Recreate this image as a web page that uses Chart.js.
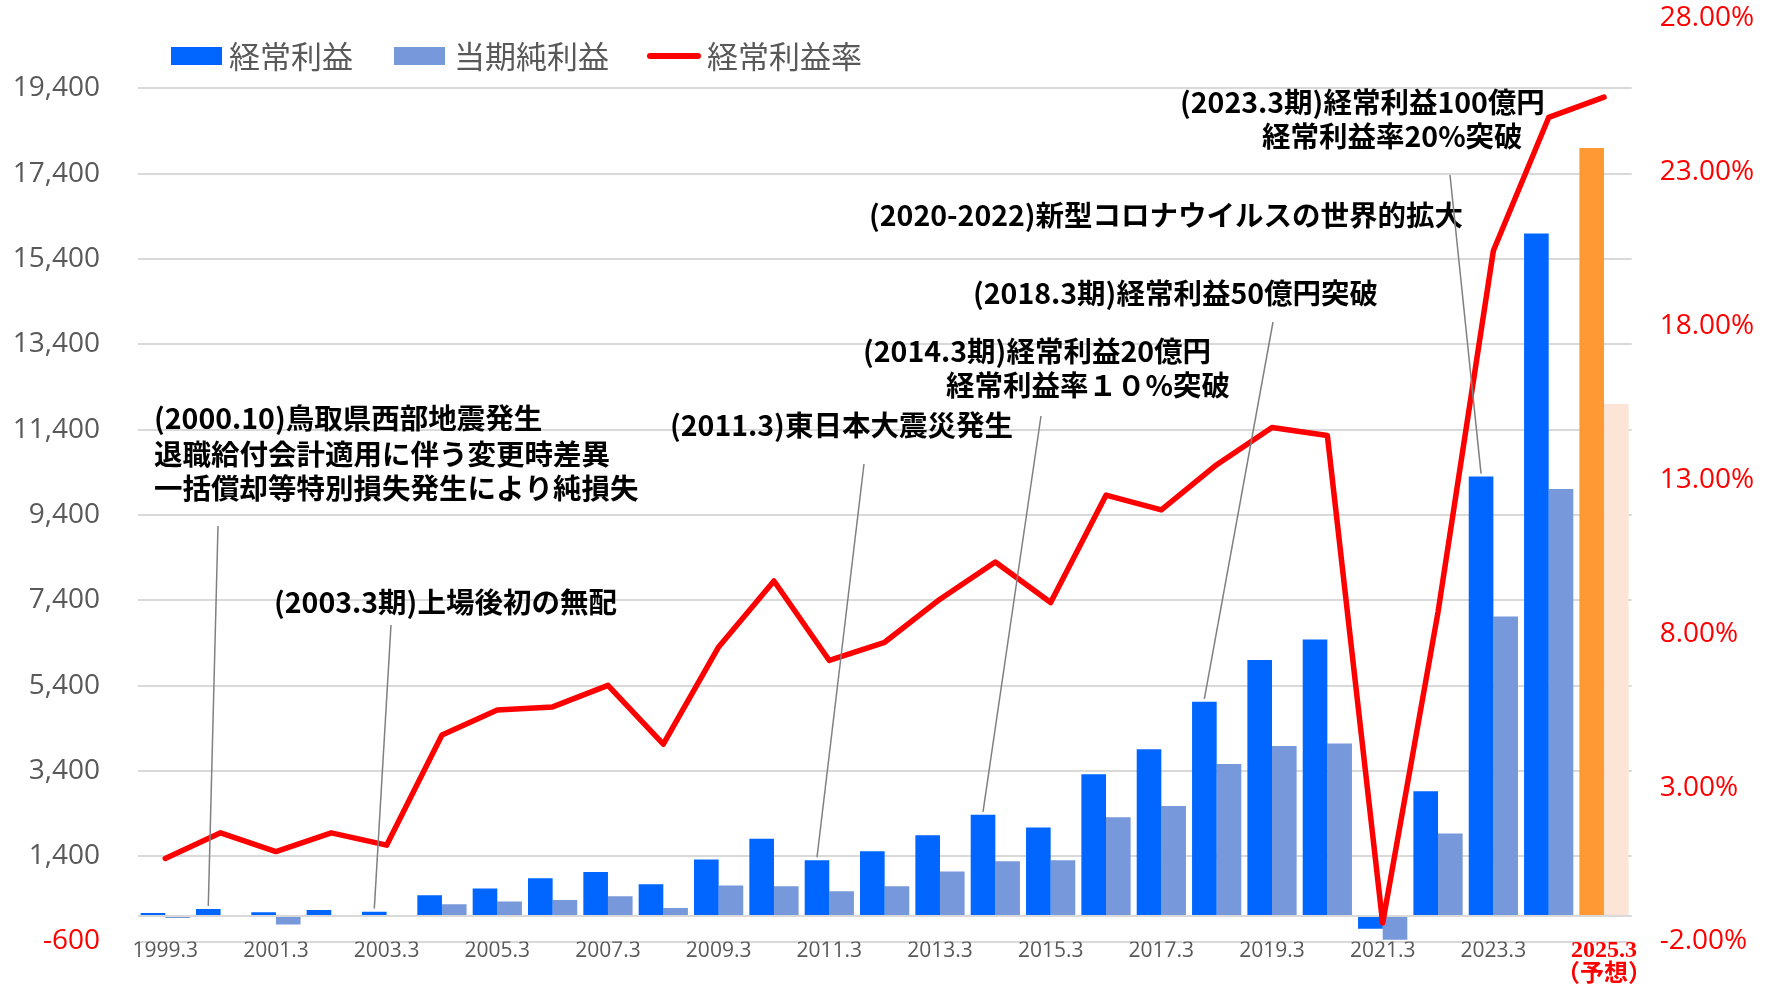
<!DOCTYPE html>
<html lang="ja">
<head>
<meta charset="utf-8">
<title>経常利益・当期純利益・経常利益率の推移</title>
<script src="https://cdn.jsdelivr.net/npm/chart.js@4/dist/chart.umd.min.js"></script>
<style>
  html, body { margin: 0; padding: 0; background: #ffffff; }
  #wrap { width: 1774px; height: 987px; }
</style>
</head>
<body>
<div id="wrap"><canvas id="chart-profit" width="1774" height="987"></canvas></div>
<script>
// Profit history chart - 経常利益 / 当期純利益 (bars) + 経常利益率 (line)

const periods = ['1999.3', '2000.3', '2001.3', '2002.3', '2003.3', '2004.3', '2005.3', '2006.3',
    '2007.3', '2008.3', '2009.3', '2010.3', '2011.3', '2012.3', '2013.3', '2014.3', '2015.3',
    '2016.3', '2017.3', '2018.3', '2019.3', '2020.3', '2021.3', '2022.3', '2023.3', '2024.3', '2025.3'];
const forecastNote = '（予想）';

// 経常利益 (left axis)
const ordinaryProfit = [70, 160, 88, 140, 100, 485, 642, 880, 1030, 745, 1325, 1810, 1305, 1517,
    1890, 2370, 2075, 3320, 3905, 5020, 6000, 6480, -300, 2925, 10300, 16000, 18000];
// 当期純利益 (left axis)
const netProfit = [-50, 0, -200, 0, 0, 272, 335, 370, 460, 185, 715, 697, 580, 697,
    1040, 1280, 1304, 2312, 2577, 3560, 3985, 4040, -560, 1930, 7020, 10010, 12000];
// 経常利益率 % (right axis)
const ordinaryMargin = [0.70, 1.53, 0.92, 1.53, 1.13, 4.71, 5.52, 5.62, 6.32, 4.41, 7.57, 9.71, 7.13, 7.72,
    9.12, 10.33, 9.01, 12.50, 12.02, 13.49, 14.70, 14.44, -1.40, 8.70, 20.44, 24.77, 25.43];

const leftTicks = [-600, 0, 1400, 3400, 5400, 7400, 9400, 11400, 13400, 15400, 17400, 19400];
const rightTicks = [-2, 3, 8, 13, 18, 23, 28];

const legendItems = ['経常利益', '当期純利益', '経常利益率'];

// annotation texts, the bar each one points at
const notes = [
    { lines: ['(2000.10)鳥取県西部地震発生', '退職給付会計適用に伴う変更時差異', '一括償却等特別損失発生により純損失'], target: 1 },
    { lines: ['(2003.3期)上場後初の無配'], target: 4 },
    { lines: ['(2011.3)東日本大震災発生'], target: 12 },
    { lines: ['(2014.3期)経常利益20億円', '経常利益率１０%突破'], target: 15 },
    { lines: ['(2018.3期)経常利益50億円突破'], target: 19 },
    { lines: ['(2020-2022)新型コロナウイルスの世界的拡大'], target: null },
    { lines: ['(2023.3期)経常利益100億円', '経常利益率20%突破'], target: 24 }
];

/* =========================================
   LAYOUT / STYLE
   ========================================= */
const lastIdx = periods.length - 1;
const blue = '#0066FF';
const lightBlue = '#7799DB';
const red = '#FF0000';
const gray = '#595959';
const clear = 'rgba(0,0,0,0)';
const tickFont = "'Open Sans', 'Liberation Sans', sans-serif";
const jpFont = "'Noto Sans CJK JP', sans-serif";

// where each note's text and leader line start sit on the canvas
const notePlaces = [
    { x: [154, 154, 154], y: [418, 454, 488], from: [218, 526] },
    { x: [274], y: [602], from: [391, 625] },
    { x: [670], y: [425], from: [864, 464] },
    { x: [863, 946], y: [351, 385], from: [1041, 416] },
    { x: [973], y: [293], from: [1273, 322] },
    { x: [869], y: [215], from: null },
    { x: [1180, 1262], y: [102, 136], from: [1450, 175] }
];

const overlayPlugin = {
    id: 'overlay',
    afterDraw(chart) {
        const ctx = chart.ctx;
        ctx.save();

        // legend
        ctx.textBaseline = 'middle';
        ctx.textAlign = 'left';
        ctx.font = `31px ${jpFont}`;
        ctx.fillStyle = blue;
        ctx.fillRect(171, 47, 51, 18);
        ctx.fillStyle = lightBlue;
        ctx.fillRect(394, 47, 51, 18);
        ctx.strokeStyle = red;
        ctx.lineWidth = 6;
        ctx.lineCap = 'round';
        ctx.beginPath();
        ctx.moveTo(650, 56);
        ctx.lineTo(698, 56);
        ctx.stroke();
        ctx.fillStyle = gray;
        ctx.fillText(legendItems[0], 229, 56);
        ctx.fillText(legendItems[1], 454, 56);
        ctx.fillText(legendItems[2], 707, 56);

        // annotations with leader lines
        const bars = chart.getDatasetMeta(0).data;
        ctx.font = `bold 28.5px ${jpFont}`;
        ctx.fillStyle = '#000000';
        ctx.strokeStyle = '#808080';
        ctx.lineWidth = 1.5;
        ctx.lineCap = 'butt';
        notes.forEach((note, n) => {
            const place = notePlaces[n];
            note.lines.forEach((txt, i) => ctx.fillText(txt, place.x[i], place.y[i]));
            if (note.target !== null && place.from) {
                const bar = bars[note.target];
                ctx.beginPath();
                ctx.moveTo(place.from[0], place.from[1]);
                ctx.lineTo(bar.x, bar.y - 3);
                ctx.stroke();
            }
        });
        ctx.restore();
    }
};

/* =========================================
   INITIALIZE CHART
   ========================================= */
const ctx = document.getElementById('chart-profit').getContext('2d');
new Chart(ctx, {
    data: {
        labels: periods,
        datasets: [
            {
                type: 'bar',
                label: legendItems[0],
                data: ordinaryProfit,
                backgroundColor: periods.map((p, i) => i === lastIdx ? '#FF9933' : blue),
                yAxisID: 'y',
                order: 1,
                categoryPercentage: 0.89,
                barPercentage: 1.0
            },
            {
                type: 'bar',
                label: legendItems[1],
                data: netProfit,
                backgroundColor: periods.map((p, i) => i === lastIdx ? '#FCE4D6' : lightBlue),
                yAxisID: 'y',
                order: 2,
                categoryPercentage: 0.89,
                barPercentage: 1.0
            },
            {
                type: 'line',
                label: legendItems[2],
                data: ordinaryMargin,
                borderColor: red,
                borderWidth: 5.5,
                borderJoinStyle: 'round',
                borderCapStyle: 'round',
                pointRadius: 0,
                tension: 0,
                fill: false,
                yAxisID: 'y2',
                order: 0
            }
        ]
    },
    options: {
        responsive: false,
        animation: false,
        events: [],
        layout: { padding: { top: 18, left: 0, right: 0, bottom: 0 } },
        plugins: {
            legend: { display: false },
            tooltip: { enabled: false }
        },
        scales: {
            x: {
                offset: true,
                grid: { display: false, drawTicks: false },
                border: { display: false },
                ticks: {
                    autoSkip: false,
                    maxRotation: 0,
                    padding: -2.5,
                    callback: (val, idx) => {
                        if (idx % 2) return '';
                        return idx === lastIdx ? [periods[idx], forecastNote] : periods[idx];
                    },
                    color: (c) => c.index === lastIdx ? red : gray,
                    font: (c) => c.index === lastIdx
                        ? { family: "'Liberation Serif', 'Noto Sans CJK JP', serif", size: 24, weight: 'bold', lineHeight: 1.0 }
                        : { family: tickFont, size: 21, lineHeight: 1.1 }
                },
                afterFit: (scale) => { scale.height = 45.5; }
            },
            y: {
                position: 'left',
                min: -600,
                max: 21050,
                // invisible tick marks keep the labels away from the plot
                grid: { color: '#D9D9D9', lineWidth: 2, drawTicks: true, tickLength: 37.6, tickColor: clear },
                border: { display: false },
                ticks: {
                    autoSkip: false,
                    padding: 0,
                    color: (c) => c.tick && c.tick.value < 0 ? red : gray,
                    font: { family: tickFont, size: 28, lineHeight: 1 },
                    callback: (v) => v === 0 ? '' : v.toLocaleString('en-US')
                },
                afterBuildTicks: (scale) => { scale.ticks = leftTicks.map(v => ({ value: v })); },
                afterFit: (scale) => { scale.width = 137.6; }
            },
            y2: {
                position: 'right',
                min: -2,
                max: 28,
                grid: { display: true, drawOnChartArea: false, drawTicks: true, tickLength: 28, tickColor: clear, color: clear },
                border: { display: false },
                ticks: {
                    autoSkip: false,
                    padding: 0,
                    color: red,
                    font: { family: tickFont, size: 28, lineHeight: 1 },
                    callback: (v) => v.toFixed(2) + '%'
                },
                afterBuildTicks: (scale) => { scale.ticks = rightTicks.map(v => ({ value: v })); },
                afterFit: (scale) => { scale.width = 142.3; }
            }
        }
    },
    plugins: [overlayPlugin]
});
</script>
</body>
</html>
